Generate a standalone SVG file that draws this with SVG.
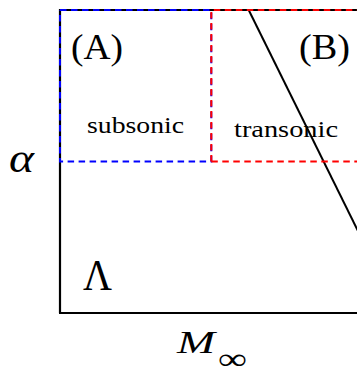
<svg xmlns="http://www.w3.org/2000/svg" width="357" height="368" viewBox="0 0 357 368">
<style>
.frame{fill:none;stroke:#000;stroke-width:2.2}
.blue{fill:none;stroke:#0000ff;stroke-width:2;stroke-dasharray:6.5 4.5}
.red{fill:none;stroke:#ff0000;stroke-width:2;stroke-dasharray:6.5 4.5}
.t{font-family:"Liberation Serif","DejaVu Serif",serif;fill:#000}
.it{font-style:italic}
</style>
<rect width="357" height="368" fill="#fff"/>
<g id="frame">
<path class="frame" d="M60,10 H360 M60,9 V313 M59,313 H360"/>
</g>
<g id="connectors">
<line x1="248.7" y1="10" x2="360" y2="235" stroke="#000" stroke-width="2"/>
</g>
<g id="regionA">
<path class="blue" d="M60,10 H211.3 V161.5 H60 V10"/>
<text class="t" x="71" y="59" font-size="35" textLength="52" lengthAdjust="spacingAndGlyphs">(A)</text>
<text class="t" x="87" y="133" font-size="23" textLength="97" lengthAdjust="spacingAndGlyphs">subsonic</text>
</g>
<g id="regionB">
<path class="red" d="M211.3,161.5 V10 H360 M211.3,161.5 H360"/>
<text class="t" x="299" y="59" font-size="35" textLength="51" lengthAdjust="spacingAndGlyphs">(B)</text>
<text class="t" x="234" y="137" font-size="23" textLength="104" lengthAdjust="spacingAndGlyphs">transonic</text>
</g>
<g id="labels">
<text class="t it" x="9" y="172" font-size="42" textLength="25" lengthAdjust="spacingAndGlyphs">α</text>
<text class="t" x="83" y="290" font-size="44" textLength="29" lengthAdjust="spacingAndGlyphs">Λ</text>
<text class="t it" x="177" y="353" font-size="31" textLength="38" lengthAdjust="spacingAndGlyphs">M</text>
<text class="t" x="218" y="369" font-size="30" textLength="29" lengthAdjust="spacingAndGlyphs">∞</text>
</g>
</svg>
